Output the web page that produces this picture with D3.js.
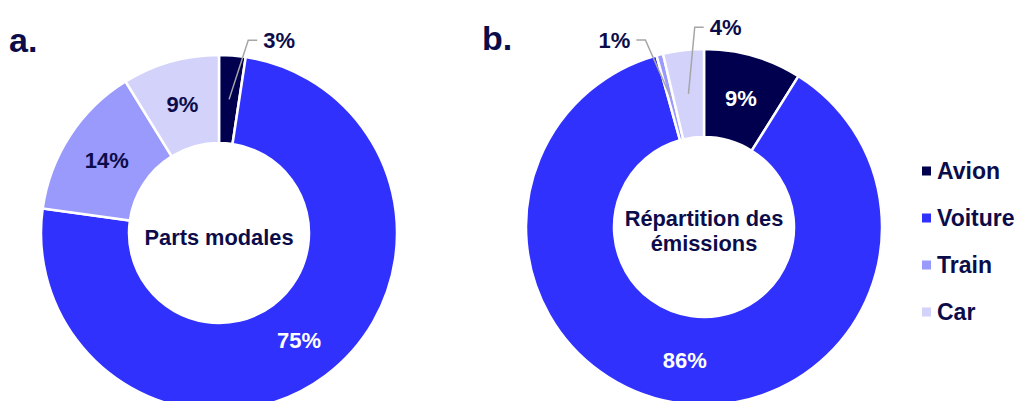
<!DOCTYPE html>
<html>
<head>
  <meta charset="utf-8">
  <title>Parts modales et emissions</title>
  <script src="https://d3js.org/d3.v7.min.js"></script>
  <style>
    body { margin: 0; background: #fff; }
    text { font-family: "Liberation Sans", Arial, sans-serif; font-weight: bold; }
  </style>
</head>
<body>
  <div id="chart"></div>

  <script>
    const modes = ["Avion", "Voiture", "Train", "Car"];
    const partsModales = [2.4, 74.8, 14.0, 8.8];
    const partsLabels = ["3%", "75%", "14%", "9%"];
    const emissions = [8.9, 86.8, 0.6, 3.7];
    const emissionsLabels = ["9%", "86%", "1%", "4%"];
    const colors = ["#00004f", "#3131fd", "#9a9afd", "#d2d2fb"];
    const navy = "#0c0c4a";

    const width = 1022, height = 401;
    const outerR = 178, innerR = 90;

    const svg = d3.select("#chart")
      .append("svg")
      .attr("width", width)
      .attr("height", height);

    const color = d3.scaleOrdinal().domain(modes).range(colors);

    const pie = d3.pie().sort(null).value(d => d.value);
    const arc = d3.arc().innerRadius(innerR).outerRadius(outerR);

    function polar(angle, r) {
      return [Math.sin(angle) * r, -Math.cos(angle) * r];
    }

    // outside[i] set = label pulled out of the slice with a leader line
    function donut(cx, cy, values, labels, title, centerLines, outside) {
      const g = svg.append("g").attr("transform", `translate(${cx},${cy})`);
      const data = pie(values.map((v, i) => ({ mode: modes[i], value: v, label: labels[i] })));

      g.selectAll("path")
        .data(data)
        .enter()
        .append("path")
        .attr("d", arc)
        .attr("fill", d => color(d.data.mode))
        .attr("stroke", "#fff")
        .attr("stroke-width", 2.5);

      data.forEach((d, i) => {
        const c = arc.centroid(d);
        const o = outside[i];
        if (!o) {
          g.append("text")
            .attr("x", c[0])
            .attr("y", c[1])
            .attr("dy", "0.36em")
            .attr("text-anchor", "middle")
            .attr("font-size", 22)
            .attr("fill", i < 2 ? "#fff" : navy)
            .text(d.data.label);
        } else {
          const mid = (d.startAngle + d.endAngle) / 2;
          const e = polar(mid + o.shift * Math.PI / 180, o.r);
          const h = [e[0] + o.dir * 9, e[1]];
          g.append("polyline")
            .attr("points", [c, e, h].map(p => p.join(",")).join(" "))
            .attr("fill", "none")
            .attr("stroke", "#a6a6a6")
            .attr("stroke-width", 1.5);
          g.append("text")
            .attr("x", h[0] + o.dir * 6)
            .attr("y", h[1])
            .attr("dy", "0.36em")
            .attr("text-anchor", o.dir > 0 ? "start" : "end")
            .attr("font-size", 22)
            .attr("fill", navy)
            .text(d.data.label);
        }
      });

      g.selectAll(".center")
        .data(centerLines)
        .enter()
        .append("text")
        .attr("class", "center")
        .attr("x", 0)
        .attr("y", (d, i) => (i - (centerLines.length - 1) / 2) * 25 + 4)
        .attr("dy", "0.36em")
        .attr("text-anchor", "middle")
        .attr("font-size", 21.8)
        .attr("fill", navy)
        .text(d => d);

      svg.append("text")
        .attr("x", title.x)
        .attr("y", title.y)
        .attr("font-size", 34)
        .attr("fill", navy)
        .text(title.text);
    }

    donut(219, 233, partsModales, partsLabels, { text: "a.", x: 9, y: 52 },
      ["Parts modales"],
      [{ shift: 4.3, r: 195, dir: 1 }, null, null, null]);

    donut(704, 227, emissions, emissionsLabels, { text: "b.", x: 482, y: 50 },
      ["Répartition des", "émissions"],
      [null, null, { shift: -3, r: 196, dir: -1 }, { shift: 4, r: 200, dir: 1 }]);

    // legend
    const legendY = d3.scalePoint().domain(modes).range([171, 312]);
    const legend = svg.append("g")
      .selectAll("g")
      .data(modes)
      .enter()
      .append("g")
      .attr("transform", d => `translate(922,${legendY(d)})`);

    legend.append("rect")
      .attr("x", 0)
      .attr("y", -4.5)
      .attr("width", 9)
      .attr("height", 9)
      .attr("fill", d => color(d));

    legend.append("text")
      .attr("x", 15)
      .attr("y", 0)
      .attr("dy", "0.36em")
      .attr("font-size", 23)
      .attr("fill", navy)
      .text(d => d);
  </script>
</body>
</html>
